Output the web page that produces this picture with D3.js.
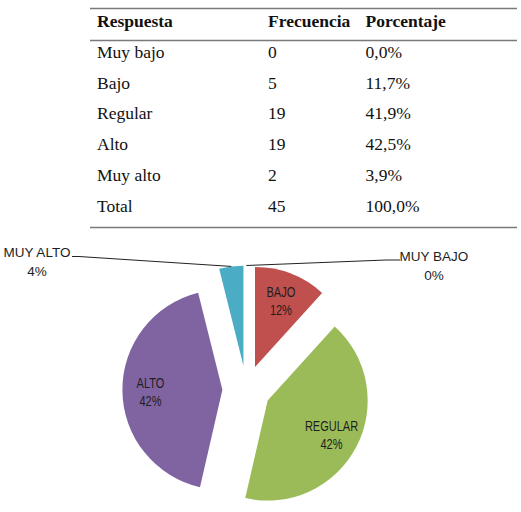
<!DOCTYPE html>
<html lang="es">
<head>
    <meta charset="UTF-8">
    <title>Respuesta - Frecuencia y Porcentaje</title>
    <script src="https://d3js.org/d3.v7.min.js"></script>
    <style>
        body { margin: 0; background: #fff; }
        .tbl { font-family: "Liberation Serif", "Times New Roman", serif; font-size: 17.5px; fill: #111; }
        .tbl-head { font-weight: bold; }
        .in-label { font-family: "Liberation Sans", Arial, sans-serif; font-size: 14.5px; fill: #1e1e1e; text-anchor: middle; }
        .out-label { font-family: "Liberation Sans", Arial, sans-serif; font-size: 13.5px; fill: #1e1e1e; text-anchor: middle; }
    </style>
</head>
<body>
    <svg width="521" height="512"></svg>
    <script>
        const categorias = ["Muy bajo", "Bajo", "Regular", "Alto", "Muy alto"];
        const frecuencia = [0, 5, 19, 19, 2];
        const porcentaje = [0.0, 11.7, 41.9, 42.5, 3.9];
        const totalLabel = ["Total", "45", "100,0%"];
        const headers = ["Respuesta", "Frecuencia", "Porcentaje"];
        const pieLabels = ["MUY BAJO", "BAJO", "REGULAR", "ALTO", "MUY ALTO"];
        const pctLabels = ["0%", "12%", "42%", "42%", "4%"];
        const colors = ["#4F81BD", "#C0504D", "#9BBB59", "#8064A2", "#4BACC6"];

        const svg = d3.select("svg");

        // ---- tabla ----
        const fmt = v => v.toFixed(1).replace(".", ",") + "%";
        const rows = categorias.map((c, i) => [c, String(frecuencia[i]), fmt(porcentaje[i])]);
        rows.push(totalLabel);

        const colX = [97, 268, 365.5];
        const rowY = d3.scaleLinear().domain([0, 1]).range([57.7, 88.5]);

        const tbl = svg.append("g");
        [8.5, 40.5, 227.5].forEach(y => {
            tbl.append("line")
                .attr("x1", 90).attr("x2", 517)
                .attr("y1", y).attr("y2", y)
                .attr("stroke", "#7a7a7a").attr("stroke-width", 1.5);
        });

        tbl.selectAll(".tbl-head")
            .data(headers)
            .enter().append("text")
            .attr("class", "tbl tbl-head")
            .attr("x", (d, i) => colX[i])
            .attr("y", 26.7)
            .text(d => d);

        rows.forEach((r, ri) => {
            tbl.selectAll(null)
                .data(r)
                .enter().append("text")
                .attr("class", "tbl")
                .attr("x", (d, i) => colX[i])
                .attr("y", rowY(ri))
                .text(d => d);
        });

        // ---- pastel ----
        const cx = 246.4, cy = 389.5, r = 100, explode = 24;
        const pie = d3.pie().sort(null).value(d => d);
        const arcs = pie(porcentaje);
        const arc = d3.arc().innerRadius(0).outerRadius(r);
        const labelArc = d3.arc().innerRadius(r * 0.72).outerRadius(r * 0.72);

        const off = d => {
            const a = (d.startAngle + d.endAngle) / 2;
            return [Math.sin(a) * explode, -Math.cos(a) * explode];
        };

        const g = svg.append("g").attr("transform", `translate(${cx},${cy})`);

        const slice = g.selectAll(".slice")
            .data(arcs)
            .enter().append("g")
            .attr("class", "slice")
            .attr("transform", d => `translate(${off(d)})`);

        slice.filter(d => d.value > 0)
            .append("path")
            .attr("d", arc)
            .attr("fill", (d, i) => colors[d.index]);

        // etiquetas dentro (BAJO, REGULAR, ALTO) - letra estrecha
        const inside = [1, 2, 3];
        inside.forEach(i => {
            const d = arcs[i];
            const [ox, oy] = off(d);
            const [lx, ly] = labelArc.centroid(d);
            const t = g.append("g")
                .attr("transform", `translate(${lx + ox},${ly + oy}) scale(0.76,1)`)
                .append("text")
                .attr("class", "in-label");
            t.append("tspan").attr("x", 0).attr("dy", "-0.2em").text(pieLabels[i]);
            t.append("tspan").attr("x", 0).attr("dy", "1.25em").text(pctLabels[i]);
        });

        // etiquetas fuera con linea guia
        const outside = [
            { i: 4, tx: 37, ty: 257.3, line: [[72, 256.5], [79, 256.5]] },
            { i: 0, tx: 434, ty: 261, line: [[400, 260], [386, 260]] }
        ];
        outside.forEach(o => {
            const d = arcs[o.i];
            const a = (d.startAngle + d.endAngle) / 2;
            const [ox, oy] = off(d);
            const end = [cx + ox + Math.sin(a) * r, cy + oy - Math.cos(a) * r];
            svg.append("path")
                .attr("d", d3.line()([...o.line, end]))
                .attr("fill", "none")
                .attr("stroke", "#222")
                .attr("stroke-width", 1);
            const t = svg.append("text").attr("class", "out-label");
            t.append("tspan").attr("x", o.tx).attr("y", o.ty).text(pieLabels[o.i]);
            t.append("tspan").attr("x", o.tx).attr("y", o.ty + 18.5).text(pctLabels[o.i]);
        });
    </script>
</body>
</html>
